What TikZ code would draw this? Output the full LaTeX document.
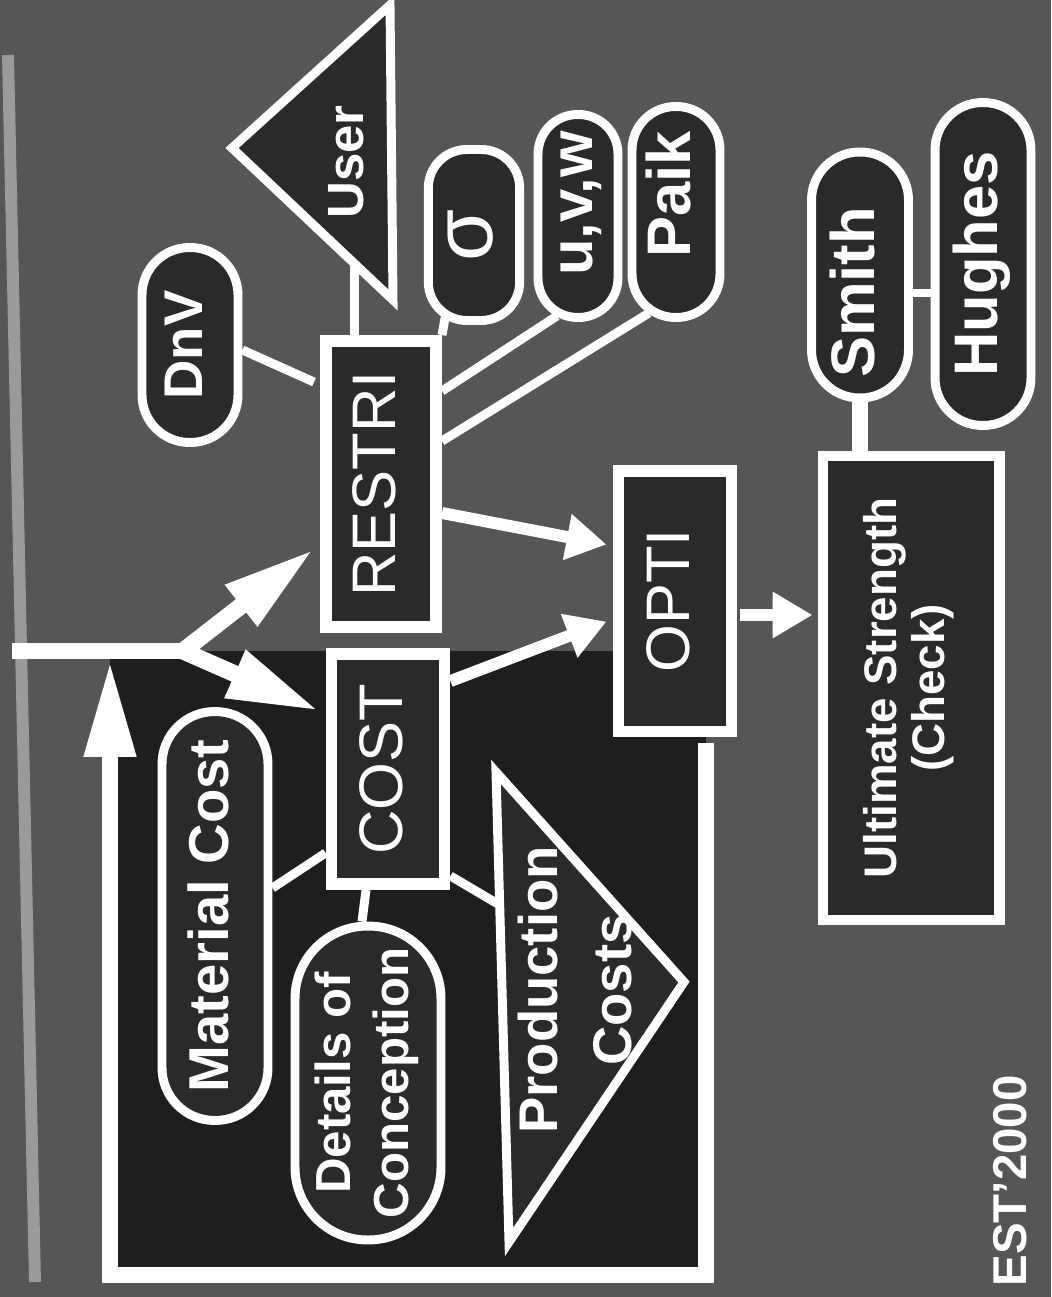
\documentclass[tikz,border=0pt]{standalone}
\usepackage{fontspec}
\setmainfont{Liberation Sans}
\usepackage{graphicx}
\usetikzlibrary{calc}
\usetikzlibrary{arrows.meta}
\definecolor{slidegray}{HTML}{565656}
\definecolor{loopdark}{HTML}{1E1E1E}
\definecolor{boxdark}{HTML}{2A2A2A}
\definecolor{framegray}{HTML}{9A9A9A}
\tikzset{box/.style={draw=white, line width=6.8pt, fill=boxdark, text=white, inner sep=0pt, font=\fontsize{35}{42}\selectfont}}
\tikzset{pill/.style={draw=white, line width=5.1pt, fill=boxdark, text=white, inner sep=0pt, rounded corners=#1, font=\bfseries\fontsize{35}{42}\selectfont}}
\tikzset{tri/.style={draw=white, line width=5.1pt, fill=boxdark}}
\tikzset{lbl/.style={text=white, inner sep=0pt, font=\bfseries\fontsize{31}{42}\selectfont}}
\tikzset{link/.style={draw=white, line width=5.1pt}}
\tikzset{arr/.style={draw=white, line width=6.8pt, -{Triangle[length=0.8cm, width=0.88cm]}}}
\tikzset{flow/.style={draw=white, line width=9.6pt}}
\tikzset{bighead/.style={-{Triangle[length=1.85cm, width=0.96cm]}}}
\newcommand{\sidetext}[1]{\rotatebox{90}{\begin{tabular}{@{}c@{}}#1\end{tabular}}}

\begin{document}
\begin{tikzpicture}[x=0.02cm, y=-0.02cm]
\useasboundingbox (0,0) rectangle (1051,1297);
\fill[slidegray] (0,0) rectangle (1051,1297);
\fill[loopdark] (110,651) rectangle (706,1275);
\draw[framegray, line width=6.8pt] (8,55) -- (35,1282);

\node[box, minimum width=2.2cm, minimum height=5.72cm] (restri) at (381,484) {\sidetext{RESTRI}};
\node[box, minimum width=2.26cm, minimum height=4.6cm] (cost) at (388,769) {\sidetext{COST}};
\node[box, minimum width=2.26cm, minimum height=5.22cm] (opti) at (675,601) {\sidetext{OPTI}};
\node[box, line width=5.7pt, minimum width=3.54cm, minimum height=9.3cm,
  font=\bfseries\fontsize{26}{27}\selectfont] (ult) at (911,688) {\sidetext{Ultimate Strength\\(Check)}};

\node[pill=0.95cm, minimum width=1.92cm, minimum height=3.9cm, font=\bfseries\fontsize{31}{36}\selectfont] (dnv) at (190,345) {\sidetext{DnV}};
\node[pill=0.77cm, minimum width=1.56cm, minimum height=3.42cm, font=\fontsize{48}{52}\selectfont] (sig) at (474,235) {\sidetext{σ}};
\node[pill=0.79cm, minimum width=1.6cm, minimum height=4.06cm, font=\bfseries\fontsize{34}{40}\selectfont] (uvw) at (578,216) {\sidetext{\hspace*{0.5cm}u,v,w}};
\node[pill=0.87cm, minimum width=1.76cm, minimum height=4.22cm] (paik) at (676,212) {\sidetext{\hspace*{0.7cm}Paik}};
\node[pill=0.96cm, minimum width=1.94cm, minimum height=4.92cm] (smith) at (860,275) {\sidetext{Smith\hspace*{0.7cm}}};
\node[pill=0.95cm, minimum width=1.92cm, minimum height=6.46cm] (hughes) at (983,264) {\sidetext{Hughes}};
\node[pill=1.05cm, minimum width=2.12cm, minimum height=8.18cm, font=\bfseries\fontsize{32}{38}\selectfont] (mat) at (215,916) {\sidetext{Material Cost}};
\node[pill=1.45cm, minimum width=2.92cm, minimum height=6.28cm, font=\bfseries\fontsize{28}{33}\selectfont] (det) at (368,1083) {\sidetext{Details of\\Conception}};

\coordinate (ua) at (232,148);
\coordinate (ub) at (390,5);
\coordinate (uc) at (393,300);
\draw[tri] (ua) -- (ub) -- (uc) -- cycle;
\node[lbl, font=\bfseries\fontsize{29}{34}\selectfont] (user) at (352,162) {\sidetext{User}};

\coordinate (pa) at (496,772);
\coordinate (pb) at (509,1242);
\coordinate (pc) at (684,982);
\draw[tri] (pa) -- (pb) -- (pc) -- cycle;
\node[lbl] (prod) at (580,990) {\sidetext{Production\\Costs}};

\node[lbl, rotate=90, anchor=east, font=\bfseries\fontsize{27}{32}\selectfont] (est) at (1010,1075) {EST'2000};

\coordinate (barstart) at (12,651);
\coordinate (split) at (183,651);
\coordinate (loopcorner) at (110,1275);
\coordinate (bartap) at (110,660);
\coordinate (userfoot) at ($(ua)!0.758!(uc)$);
\coordinate (sh) at ($(smith.east)+(0,18)$);

\draw[flow] (barstart) -- (split);
\draw[flow, bighead] (split) -- ($(restri.north west)+(-6,214)$);
\draw[flow, bighead] (split) -- ($(cost.north west)+(-6,63)$);
\draw[flow, -{Triangle[length=1.94cm, width=0.96cm]}] ($(opti.south)+(31,6)$) |- (loopcorner) -- (bartap);

\draw[arr] ($(restri.east)+(0,29)$) -- ($(opti.north west)+(-6,80)$);
\draw[arr] ($(cost.north east)+(0,33)$) -- ($(opti.north west)+(-6,157)$);
\draw[arr] ($(opti.east)+(3,14)$) -- ($(ult.west)+(-5,-73)$);

\draw[link] ($(dnv.east)+(0,5)$) -- ($(restri.north west)+(-6,47)$);
\draw[link] (userfoot) -- (userfoot |- restri.north);
\draw[link] ($(sig.south)+(-28,-12)$) -- (restri.north east);
\draw[link] ($(uvw.south)+(-21,-6)$) -- ($(restri.north east)+(0,56)$);
\draw[link] ($(paik.south)+(-27,-9)$) -- ($(restri.north east)+(0,106)$);
\draw[link] ($(mat.east)+(0,-28)$) -- ($(cost.south west)+(0,-37)$);
\draw[link] ($(det.north)+(-6,0)$) -- ($(cost.south)+(-22,0)$);
\draw[link] ($(cost.south east)+(0,-14)$) -- ($(pa)!0.283!(pb)$);
\draw[flow] (smith.south) -- (smith.south |- ult.north);
\draw[link] (sh) -- (sh -| hughes.west);
\end{tikzpicture}
\end{document}
